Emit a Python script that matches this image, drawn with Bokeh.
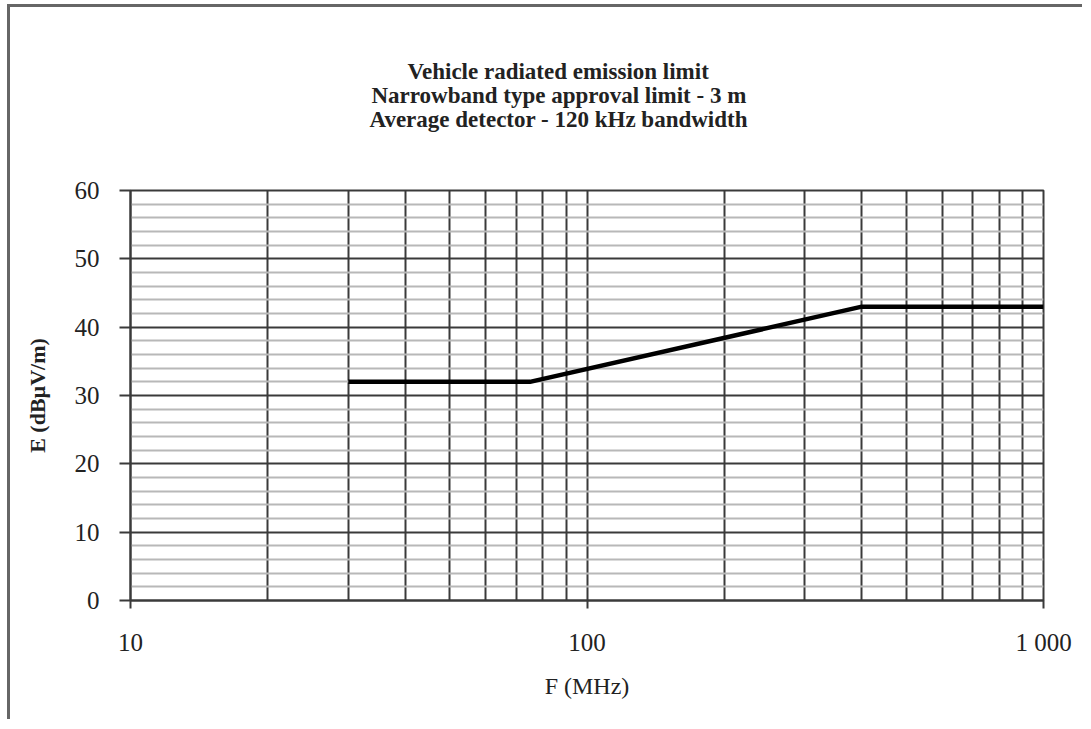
from bokeh.plotting import figure
from bokeh.models import FixedTicker, Title
from bokeh.embed import file_html
from bokeh.resources import INLINE

# data
freq_mhz = [30, 75, 400, 1000]
limit_db = [32, 32, 43, 43]

x_major = [10, 100, 1000]
x_major_labels = ["10", "100", "1 000"]
x_minor = [20, 30, 40, 50, 60, 70, 80, 90, 200, 300, 400, 500, 600, 700, 800, 900]
y_major = [0, 10, 20, 30, 40, 50, 60]
y_minor = [2, 4, 6, 8, 12, 14, 16, 18, 22, 24, 26, 28, 32, 34, 36, 38,
           42, 44, 46, 48, 52, 54, 56, 58]
title_lines = ["Vehicle radiated emission limit",
               "Narrowband type approval limit - 3 m",
               "Average detector - 120 kHz bandwidth"]

FONT = "Liberation Serif"
DARK = "#3a3a3a"

p = figure(width=1075, height=715, x_axis_type="log",
           x_range=(10, 1000), y_range=(0, 60),
           output_backend="svg", toolbar_location=None,
           min_border_left=120, min_border_top=183,
           min_border_right=42, min_border_bottom=122,
           background_fill_color="white", border_fill_color="white",
           styles={"border-top": "3px solid #666", "border-left": "3px solid #666",
                   "margin-left": "7px", "margin-top": "4px"})

p.line(freq_mhz, limit_db, line_color="black", line_width=4.5)

# x axis
p.xaxis.ticker = FixedTicker(ticks=x_major, minor_ticks=x_minor)
p.xaxis.major_label_overrides = {float(t): l for t, l in zip(x_major, x_major_labels)}
p.xaxis.minor_tick_line_color = None
p.xaxis.major_tick_out = 8
p.xaxis.major_tick_in = 0
p.xaxis.major_label_standoff = 20
p.xaxis.axis_label = "F (MHz)"
p.xaxis.axis_label_standoff = 14

# y axis
p.yaxis.ticker = FixedTicker(ticks=y_major, minor_ticks=y_minor)
p.yaxis.minor_tick_line_color = None
p.yaxis.major_tick_out = 11
p.yaxis.major_tick_in = 0
p.yaxis.major_label_standoff = 20
p.yaxis.axis_label = "E (dBµV/m)"
p.yaxis.axis_label_standoff = 22

for ax in (p.xaxis, p.yaxis):
    ax.axis_line_color = DARK
    ax.axis_line_width = 2
    ax.major_tick_line_color = DARK
    ax.major_tick_line_width = 2
    ax.major_label_text_font = FONT
    ax.major_label_text_font_size = "25px"
    ax.major_label_text_color = "#222"
    ax.axis_label_text_font = FONT
    ax.axis_label_text_color = "#222"
p.xaxis.axis_label_text_font_size = "24px"
p.xaxis.axis_label_text_font_style = "normal"
p.yaxis.axis_label_text_font_size = "22px"
p.yaxis.axis_label_text_font_style = "bold"

# grids
p.xgrid.grid_line_color = DARK
p.xgrid.grid_line_width = 2
p.xgrid.minor_grid_line_color = DARK
p.xgrid.minor_grid_line_width = 2
p.ygrid.grid_line_color = DARK
p.ygrid.grid_line_width = 2
p.ygrid.minor_grid_line_color = "#b8b8b8"
p.ygrid.minor_grid_line_width = 2

p.outline_line_color = DARK
p.outline_line_width = 2

# spacer between title block and plot frame (innermost panel)
p.add_layout(Title(text=" ", standoff=32.5, text_font=FONT, text_font_size="23px"),
             "above")

# title lines, innermost first; left offsets centre each line at the same x
title_offsets = [277, 241, 239]
for txt, off in reversed(list(zip(title_lines, title_offsets))):
    p.add_layout(Title(text=txt, align="left", offset=off, standoff=-3,
                       text_font=FONT, text_font_size="23px",
                       text_font_style="bold", text_color="#222"), "above")

open("out.html", "w").write(file_html(p, INLINE))
